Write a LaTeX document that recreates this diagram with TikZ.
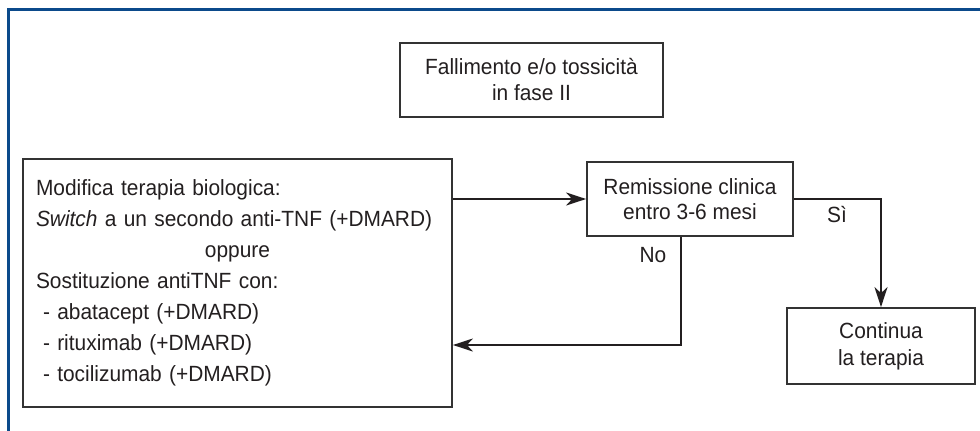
\documentclass[tikz,border=0pt]{standalone}
\usepackage{fontspec}
\setmainfont[FakeStretch=0.95]{Liberation Sans}
\usetikzlibrary{arrows.meta}
\definecolor{ink}{HTML}{231F20}
\definecolor{framecol}{HTML}{0B4A8B}
\definecolor{boxline}{HTML}{333333}
\begin{document}
\begin{tikzpicture}[x=1pt,y=-1pt,
  box/.style={draw=boxline,line width=1.8pt,inner sep=0pt,text=ink,align=center},
  arr/.style={draw=ink,line width=2pt,-{Stealth[length=20pt,width=13pt,inset=6pt]}},
  lbl/.style={text=ink,font=\fontsize{22}{26}\selectfont,inner sep=0pt}]
\useasboundingbox (0,0) rectangle (980,431);
\fill[white] (0,0) rectangle (980,431);
% frame (top and left only)
\draw[framecol,line width=3pt] (8.5,431) -- (8.5,9.5) -- (980,9.5);
% nodes
\node[box,minimum width=263pt,minimum height=74pt,font=\fontsize{22}{26}\selectfont] (top) at (531.5,80)
  {Fallimento e/o tossicità\\in fase II};
\node[box,minimum width=429pt,minimum height=248pt,text width=403pt,align=left,font=\fontsize{22}{31}\selectfont] (left) at (237.5,283)
  {Modifica terapia biologica:\\
   \textit{Switch} a un secondo anti-TNF (+DMARD)\\
   \leavevmode\hbox to\hsize{\hfil oppure\hfil}\\
   Sostituzione antiTNF con:\\
   \hspace*{7pt}- abatacept (+DMARD)\\
   \hspace*{7pt}- rituximab (+DMARD)\\
   \hspace*{7pt}- tocilizumab (+DMARD)};
\node[box,minimum width=206pt,minimum height=74pt,font=\fontsize{22}{25}\selectfont] (rem) at (690,199)
  {Remissione clinica\\entro 3-6 mesi};
\node[box,minimum width=188pt,minimum height=76pt,font=\fontsize{22}{27}\selectfont] (cont) at (881,346)
  {Continua\\la terapia};
% connectors
\draw[arr] (rem.west -| left.east) -- (rem.west);
\coordinate (nocorner) at (681,345);
\draw[arr] (rem.south -| nocorner) -- (nocorner) -- (nocorner -| left.east);
\draw[arr] (rem.east) -| (cont.north);
% labels
\node[lbl] (nolbl) at (653,255) {No};
\node[lbl] (silbl) at (837,215) {Sì};
\end{tikzpicture}
\end{document}
